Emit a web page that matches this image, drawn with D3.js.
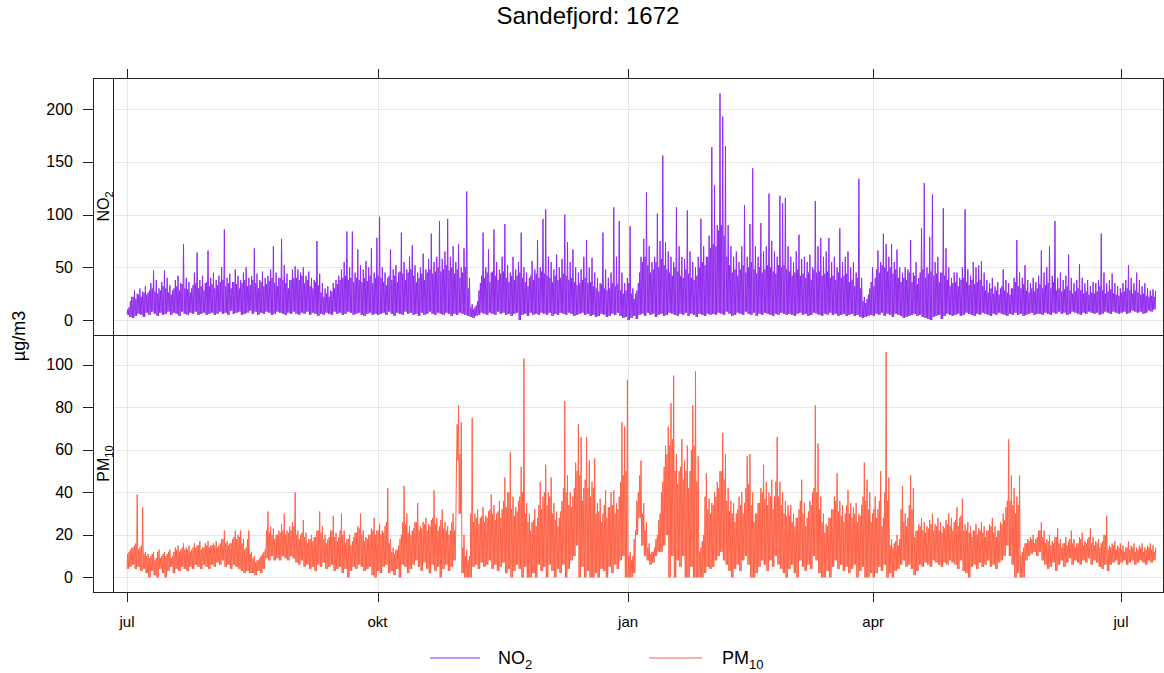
<!DOCTYPE html>
<html lang="no">
<head>
<meta charset="utf-8">
<script src="https://d3js.org/d3.v7.min.js"></script>
<style>
    body { margin: 0; background: #fff; }
    text { font-family: "Liberation Sans", Arial, sans-serif; fill: #000; }
    .grid { stroke: #e6e6e6; stroke-width: 1; }
    .frame { fill: none; stroke: #222; stroke-width: 1; }
    .tick { stroke: #222; stroke-width: 1; }
</style>
</head>
<body>
<svg id="chart" width="1164" height="673"></svg>
<script>
// first day of the hourly series (day index 0)
const startDate = new Date(2022, 6, 1);

// daily maximum of NO2 (one row per month, jul 2022 .. 13 jul 2023)
const no2Max = [
    12,22,28,25,30,27,32,26,35,47,38,30,36,47,40,33,28,38,42,35,72,40,36,30,45,64,38,42,35,66,40,
    45,38,42,50,86,40,44,36,48,42,38,45,50,40,42,68,44,38,46,40,42,48,70,45,40,77,52,44,38,48,51,
    48,45,50,42,46,40,38,75,44,35,30,32,28,35,38,42,48,55,84,50,84,45,67,52,48,56,50,68,45,78,
    98,50,45,40,67,48,52,45,83,55,48,60,71,52,45,50,63,48,58,82,55,60,94,58,65,96,60,70,55,72,50,
    68,122,40,15,12,18,35,83,50,67,45,86,55,48,60,91,52,45,60,48,55,83,50,45,40,56,48,76,50,96,
    105,60,55,48,62,50,58,100,74,55,67,50,45,48,60,76,50,59,45,40,35,83,48,40,45,107,60,94,45,35,40,
    89,30,25,35,60,77,121,70,55,60,101,75,156,74,65,60,55,107,70,60,58,104,65,55,50,60,96,70,60,80,164,
    128,90,215,193,165,90,70,60,65,55,70,109,60,91,144,70,60,92,65,70,120,75,65,60,118,111,116,70,
    60,55,65,81,58,60,55,62,50,113,70,78,60,65,78,55,60,50,87,55,60,65,50,55,45,134,40,22,20,30,50,
    40,66,55,82,72,60,72,55,67,50,45,50,48,76,45,55,40,87,130,50,79,119,55,60,45,106,68,50,40,45,
    45,40,50,105,48,42,55,50,52,56,45,38,35,40,32,36,30,48,38,35,30,40,76,45,40,52,38,35,40,36,42,
    66,45,50,70,42,94,40,45,38,42,62,40,35,38,53,40,35,38,32,36,35,38,82,45,35,38,44,35,32,30,
    35,38,52,40,35,45,38,32,35,30,28,29,28
];

// daily top of the dense NO2 band
const no2Typical = [
    10,18,22,20,24,22,26,24,28,30,27,25,28,32,30,26,24,30,32,28,34,30,29,26,33,35,30,32,28,36,32,
    34,30,33,36,38,32,35,30,36,34,30,35,38,32,33,38,35,30,36,32,34,37,40,35,32,40,38,35,30,38,40,
    40,38,42,35,38,32,30,36,33,26,22,25,22,27,30,34,38,40,42,38,40,36,40,38,36,40,37,42,35,40,
    42,40,36,33,42,38,42,36,46,44,38,45,48,42,36,40,44,38,45,48,44,46,50,46,48,52,47,50,44,48,40,
    45,50,30,12,10,14,28,42,40,45,36,46,42,38,44,46,40,36,42,38,42,45,40,36,32,42,38,44,40,46,
    44,42,40,36,42,38,40,44,42,38,40,36,33,35,38,40,35,36,32,30,27,34,30,28,30,35,32,34,28,25,28,
    35,25,20,28,45,55,60,52,45,48,55,50,58,52,48,45,42,50,46,42,40,48,44,40,38,42,50,55,52,60,68,
    72,70,85,90,80,60,52,45,48,42,48,52,45,50,55,48,44,50,45,48,52,50,46,44,52,50,52,48,
    46,42,45,48,42,44,40,45,38,48,45,46,42,44,46,40,42,38,45,40,42,44,36,38,32,40,30,18,16,24,36,
    32,48,45,52,50,46,50,44,48,40,36,40,38,45,36,42,34,45,48,40,44,46,42,44,36,45,42,38,32,35,
    36,32,38,40,36,33,38,34,36,38,32,28,26,30,25,28,24,32,28,26,24,30,36,32,30,34,28,26,30,27,30,
    34,30,33,35,30,36,28,30,27,29,32,28,25,27,30,28,25,27,24,26,25,27,32,28,25,27,29,25,24,23,
    26,27,30,28,25,28,26,24,25,23,22,23,22
];

// daily minimum of NO2
const no2Min = [
    5,3,2,4,6,5,3,7,5,8,6,4,7,5,6,8,5,7,6,4,8,6,5,7,6,8,5,6,7,5,6,
    7,5,6,8,6,7,5,9,6,7,8,5,6,7,9,6,8,5,7,6,8,7,5,6,8,7,6,5,7,6,8,
    6,5,7,6,8,5,7,6,4,6,5,7,6,5,8,6,7,5,6,8,7,5,6,7,5,4,6,7,5,6,
    5,6,7,5,8,6,4,7,6,5,8,6,7,5,6,4,7,5,6,8,6,5,7,6,5,7,6,4,6,5,7,
    6,5,4,3,2,4,5,7,6,5,7,6,5,8,6,7,5,6,4,6,7,0,5,6,4,7,5,6,5,7,
    6,5,7,4,6,5,7,6,5,7,6,4,5,6,7,5,6,4,5,3,4,6,5,3,4,6,5,7,4,2,3,
    0,2,4,1,5,6,4,7,5,6,3,5,6,4,5,7,6,5,4,6,5,7,4,6,5,3,6,5,4,6,5,
    6,5,7,6,5,8,6,4,5,7,6,5,8,6,5,7,4,6,5,7,6,5,4,6,5,7,6,5,
    6,5,4,6,7,5,6,4,5,7,6,5,4,6,5,7,5,6,4,5,6,4,5,6,4,5,3,2,3,4,5,
    4,6,5,7,4,6,5,3,6,5,4,2,3,4,5,6,4,5,3,2,1,0,3,4,5,1,4,6,5,4,
    5,6,4,5,7,6,5,4,6,5,7,6,5,4,6,5,7,6,5,4,6,5,7,5,6,4,5,6,7,5,6,
    6,5,7,6,5,7,6,8,6,7,5,6,8,7,6,5,7,6,8,7,6,7,5,6,8,7,6,8,7,6,
    7,8,6,7,9,8,7,8,6,7,9,8,10
];

// daily maximum of PM10
const pm10Max = [
    12,14,15,39,14,33,12,11,10,12,9,13,10,12,11,13,10,14,15,13,16,14,15,13,16,15,17,14,16,17,15,
    16,17,15,18,22,17,16,18,22,20,22,18,14,22,12,10,8,9,11,13,31,24,23,20,22,25,30,22,24,26,40,
    22,20,27,21,18,20,19,22,31,24,20,18,22,29,21,19,30,22,18,20,17,21,24,30,22,19,20,23,28,22,
    25,22,24,42,18,14,13,15,20,43,30,24,22,26,35,24,26,28,25,27,41,28,24,32,26,24,22,30,25,81,73,
    20,13,10,75,30,32,28,33,29,31,39,34,30,36,32,47,40,59,38,33,36,52,103,35,30,26,32,28,45,38,
    53,40,47,35,31,28,36,83,48,40,38,54,72,66,42,66,55,45,56,35,37,30,41,33,40,41,35,38,73,71,93,
    12,10,22,40,55,35,26,16,12,14,20,30,45,62,71,82,95,58,50,65,55,62,50,81,97,57,14,20,49,37,35,
    40,45,50,68,58,42,36,35,30,38,40,35,57,58,40,30,35,42,53,45,40,46,38,66,45,40,36,34,
    34,30,28,32,46,35,28,36,40,81,63,38,30,25,28,32,38,49,36,34,30,41,35,33,35,30,34,54,46,40,30,
    38,32,50,28,106,47,18,16,20,18,43,30,28,48,42,22,25,28,26,24,27,30,25,28,26,24,27,30,28,26,
    33,28,37,25,26,24,22,25,23,26,24,22,25,28,24,22,26,30,33,65,48,42,38,48,12,16,18,19,20,18,22,
    26,22,18,20,17,19,23,18,16,19,17,22,18,16,19,21,17,18,23,19,17,18,16,20,29,15,16,17,15,16,
    15,14,17,15,16,14,15,16,14,15,16,15,14
];

// daily top of the dense PM10 band
const pm10Typical = [
    11,13,14,16,13,15,11,10,9,11,8,12,9,11,10,12,9,12,13,12,14,13,13,12,14,14,15,13,14,15,14,
    15,15,14,16,18,16,15,16,19,18,19,16,13,18,11,9,7,8,10,12,22,21,20,18,20,21,22,20,21,22,24,
    20,18,21,19,16,18,17,19,22,21,18,16,19,22,19,17,22,20,16,18,15,19,21,23,20,17,18,20,22,20,
    22,20,21,26,16,12,11,13,18,26,25,21,20,23,26,22,23,25,22,24,28,25,22,27,23,22,20,26,22,72,58,
    14,10,8,30,26,28,25,29,26,28,32,30,27,31,28,36,33,40,32,29,31,38,40,30,26,22,27,24,34,32,
    40,34,38,30,27,24,31,42,40,34,33,42,50,48,36,46,42,38,42,30,31,26,34,28,33,34,30,32,45,48,50,
    10,8,18,36,48,30,22,14,11,12,18,27,40,52,58,62,65,50,44,52,46,50,42,60,62,45,12,17,38,32,30,
    34,38,42,50,46,36,31,30,26,32,34,30,42,44,34,26,30,35,40,37,34,38,32,45,38,34,30,29,
    29,26,24,28,36,30,24,31,34,42,40,32,26,21,24,28,32,36,31,29,26,34,30,28,30,26,29,38,36,32,26,
    32,28,36,24,40,36,15,14,17,15,32,26,24,34,32,19,22,24,22,21,23,25,22,24,22,21,23,25,24,22,
    27,24,29,22,22,21,19,22,20,22,21,19,22,24,21,19,22,25,27,36,36,34,30,34,10,14,16,17,18,16,19,
    22,19,16,17,15,16,19,16,14,16,15,18,16,14,16,18,15,16,19,16,15,16,14,17,20,13,14,15,13,14,
    13,12,14,13,14,12,13,14,12,13,14,13,12
];

// daily minimum of PM10
const pm10Min = [
    4,5,6,4,5,3,4,2,0,3,1,0,4,2,0,3,5,2,4,3,5,4,3,5,4,6,5,4,6,5,4,
    6,5,7,6,8,5,6,4,6,5,4,3,2,3,2,2,1,3,2,4,9,8,10,8,9,8,10,9,8,10,9,
    7,6,8,5,6,4,5,3,6,5,7,4,5,6,3,4,5,2,4,0,3,5,4,6,5,3,4,5,1,0,
    3,2,5,6,2,3,1,4,0,6,5,2,4,6,8,5,3,7,4,2,6,3,5,0,4,6,3,5,8,55,30,
    2,0,0,0,5,6,4,7,5,6,8,4,6,3,5,7,2,4,0,3,6,4,0,5,0,0,2,0,6,3,
    5,0,6,3,0,4,2,6,0,4,8,10,15,0,5,0,3,0,0,2,0,4,3,0,5,2,6,4,8,10,0,
    0,0,2,20,28,15,10,8,6,7,10,12,12,15,20,0,10,0,8,5,10,0,0,5,0,0,0,0,2,5,4,
    5,8,10,12,8,6,3,0,4,6,3,8,10,6,0,0,2,5,8,6,3,8,5,10,6,4,2,0,
    4,6,2,0,8,5,3,6,4,10,8,2,0,0,3,0,5,8,4,6,3,5,2,4,6,0,3,5,0,0,2,
    0,2,5,3,6,0,2,0,3,4,6,8,5,6,4,1,3,6,5,7,6,5,8,7,6,5,7,6,8,7,
    6,4,8,3,2,0,5,6,4,7,5,6,8,5,6,4,7,8,10,15,10,6,0,2,0,0,8,10,11,12,10,
    12,8,6,4,5,7,3,6,8,5,7,9,6,8,7,6,8,7,9,6,8,7,5,4,6,3,6,7,8,6,
    7,8,6,7,8,6,7,8,7,6,8,7,8
];

// x axis
const monthTicks = [new Date(2022, 6, 1), new Date(2022, 9, 1), new Date(2023, 0, 1), new Date(2023, 3, 1), new Date(2023, 6, 1)];
const monthLabels = ['jul', 'okt', 'jan', 'apr', 'jul'];

// y axis ticks per panel
const no2Ticks = [0, 50, 100, 150, 200];
const pm10Ticks = [0, 20, 40, 60, 80, 100];

const svg = d3.select('#chart');

const frameLeft = 93, stripRight = 113, frameRight = 1163;
const frameTop = 78, frameBottom = 592, divider = 335;

const x = d3.scaleTime()
    .domain([monthTicks[0], monthTicks[4]])
    .range([127, 1121]);

const panels = [
    { id: 'no2', base: 'NO', sub: '2', lo: no2Min, hi: no2Max, typ: no2Typical, ticks: no2Ticks, color: '#912CEE',
      y: d3.scaleLinear().domain([-14.2, 229.7]).range([divider, frameTop]), top: frameTop, bottom: divider },
    { id: 'pm10', base: 'PM', sub: '10', lo: pm10Min, hi: pm10Max, typ: pm10Typical, ticks: pm10Ticks, color: '#FF6347',
      y: d3.scaleLinear().domain([-6.9, 114.1]).range([frameBottom, divider]), top: divider, bottom: frameBottom }
];

// each day: low -> band top -> low -> daily peak
function toSeries(lo, hi, typ) {
    const pts = [];
    lo.forEach((v, i) => {
        const day = d3.timeDay.offset(startDate, i);
        const t = Math.max(v, Math.min(typ[i], hi[i]));
        pts.push({ t: d3.timeHour.offset(day, 0), v: v });
        pts.push({ t: d3.timeHour.offset(day, 6), v: t });
        pts.push({ t: d3.timeHour.offset(day, 12), v: v });
        pts.push({ t: d3.timeHour.offset(day, 18), v: hi[i] });
    });
    return pts;
}

// title
svg.append('text')
    .attr('x', 588).attr('y', 24)
    .attr('text-anchor', 'middle')
    .style('font-size', '24px')
    .text('Sandefjord: 1672');

// vertical grid lines
svg.append('g').selectAll('line')
    .data(monthTicks)
    .enter().append('line')
    .attr('class', 'grid')
    .attr('x1', d => Math.round(x(d)) + 0.5).attr('x2', d => Math.round(x(d)) + 0.5)
    .attr('y1', frameTop).attr('y2', frameBottom);

panels.forEach(p => {
    // horizontal grid lines
    svg.append('g').selectAll('line')
        .data(p.ticks)
        .enter().append('line')
        .attr('class', 'grid')
        .attr('x1', stripRight).attr('x2', frameRight)
        .attr('y1', d => Math.round(p.y(d)) + 0.5).attr('y2', d => Math.round(p.y(d)) + 0.5);

    svg.append('clipPath').attr('id', 'clip-' + p.id)
        .append('rect')
        .attr('x', stripRight).attr('y', p.top)
        .attr('width', frameRight - stripRight).attr('height', p.bottom - p.top);

    const line = d3.line()
        .x(d => x(d.t))
        .y(d => p.y(d.v));

    svg.append('path')
        .datum(toSeries(p.lo, p.hi, p.typ))
        .attr('clip-path', 'url(#clip-' + p.id + ')')
        .style('fill', 'none')
        .style('stroke', p.color)
        .style('stroke-width', 1)
        .attr('d', line);

    // y ticks and labels on the left
    const ax = svg.append('g');
    ax.selectAll('line')
        .data(p.ticks)
        .enter().append('line')
        .attr('class', 'tick')
        .attr('x1', 83).attr('x2', frameLeft)
        .attr('y1', d => Math.round(p.y(d)) + 0.5).attr('y2', d => Math.round(p.y(d)) + 0.5);
    ax.selectAll('text')
        .data(p.ticks)
        .enter().append('text')
        .attr('x', 73).attr('y', d => p.y(d))
        .attr('text-anchor', 'end')
        .attr('dominant-baseline', 'central')
        .style('font-size', '16px')
        .text(d => d);

    // strip label, rotated
    const st = svg.append('text')
        .attr('transform', `translate(108.5,${(p.top + p.bottom) / 2}) rotate(-90)`)
        .attr('text-anchor', 'middle')
        .style('font-size', '16px');
    st.append('tspan').text(p.base);
    st.append('tspan').attr('dy', 4).style('font-size', '11px').text(p.sub);
});

// frame, strip column and panel divider
svg.append('rect')
    .attr('class', 'frame')
    .attr('x', frameLeft + 0.5).attr('y', frameTop + 0.5)
    .attr('width', frameRight - frameLeft).attr('height', frameBottom - frameTop);
svg.append('line').attr('class', 'frame')
    .attr('x1', stripRight + 0.5).attr('x2', stripRight + 0.5)
    .attr('y1', frameTop).attr('y2', frameBottom);
svg.append('line').attr('class', 'frame')
    .attr('x1', frameLeft).attr('x2', frameRight)
    .attr('y1', divider + 0.5).attr('y2', divider + 0.5);

// month ticks on top and bottom
const mt = svg.append('g');
mt.selectAll('line.top')
    .data(monthTicks)
    .enter().append('line')
    .attr('class', 'tick')
    .attr('x1', d => Math.round(x(d)) + 0.5).attr('x2', d => Math.round(x(d)) + 0.5)
    .attr('y1', 69).attr('y2', frameTop);
mt.selectAll('line.bottom')
    .data(monthTicks)
    .enter().append('line')
    .attr('class', 'tick')
    .attr('x1', d => Math.round(x(d)) + 0.5).attr('x2', d => Math.round(x(d)) + 0.5)
    .attr('y1', frameBottom).attr('y2', 602);
mt.selectAll('text')
    .data(monthTicks)
    .enter().append('text')
    .attr('x', d => x(d)).attr('y', 627)
    .attr('text-anchor', 'middle')
    .style('font-size', '15px')
    .text((d, i) => monthLabels[i]);

// y axis title
svg.append('text')
    .attr('transform', 'translate(25,336) rotate(-90)')
    .attr('text-anchor', 'middle')
    .style('font-size', '18px')
    .text('µg/m3');

// legend
const legendItems = [
    { x1: 430, x2: 480, tx: 498, base: 'NO', sub: '2', color: panels[0].color },
    { x1: 649, x2: 702, tx: 722, base: 'PM', sub: '10', color: panels[1].color }
];
legendItems.forEach(l => {
    svg.append('line')
        .attr('x1', l.x1).attr('x2', l.x2)
        .attr('y1', 658).attr('y2', 658)
        .attr('stroke', l.color)
        .style('stroke', l.color).style('stroke-width', 1.2);
    const t = svg.append('text').attr('x', l.tx).attr('y', 664).style('font-size', '18px');
    t.append('tspan').text(l.base);
    t.append('tspan').attr('dy', 5).style('font-size', '13px').text(l.sub);
});
</script>
</body>
</html>
